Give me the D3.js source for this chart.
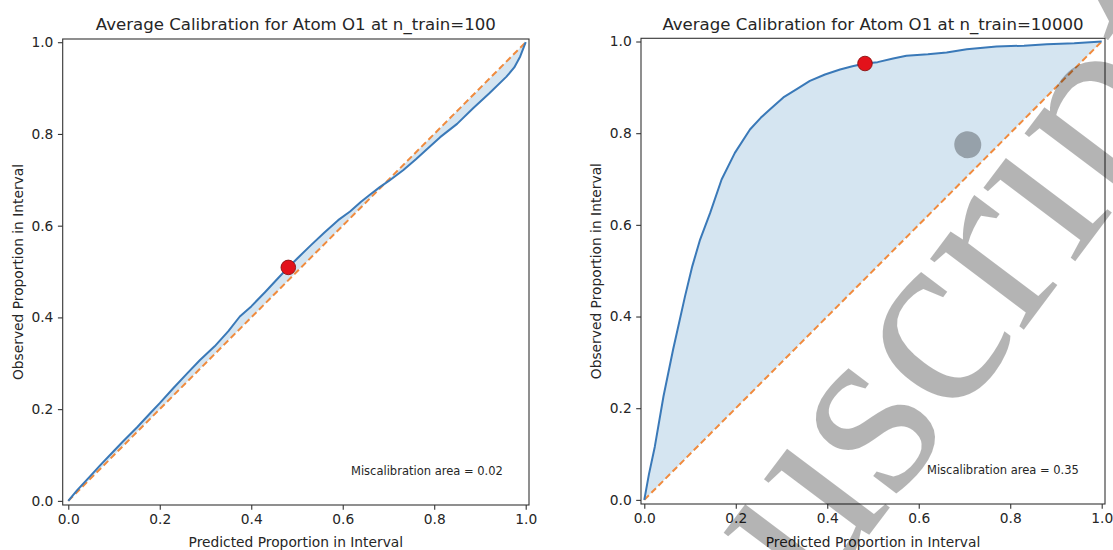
<!DOCTYPE html>
<html><head><meta charset="utf-8">
<script src="https://cdn.jsdelivr.net/npm/d3@7"></script>
<style>
html,body{margin:0;padding:0;background:#fff;}
svg{display:block;}
text{font-family:"DejaVu Sans",sans-serif;fill:#262626;}
</style></head><body>
<svg id="fig" width="1113" height="550"></svg>
<script>
// Calibration curve, n_train = 100
const predicted100 = [0, 0.02, 0.047, 0.07, 0.098, 0.12, 0.15, 0.179, 0.2, 0.23, 0.26, 0.288, 0.32, 0.35, 0.375, 0.40, 0.43, 0.46, 0.481, 0.50, 0.53, 0.56, 0.59, 0.616, 0.64, 0.66, 0.681, 0.70, 0.732, 0.76, 0.79, 0.813, 0.85, 0.885, 0.92, 0.958, 0.975, 0.988, 1.0];
const observed100  = [0, 0.024, 0.053, 0.078, 0.107, 0.13, 0.16, 0.191, 0.213, 0.246, 0.278, 0.307, 0.337, 0.37, 0.402, 0.424, 0.455, 0.487, 0.509, 0.528, 0.557, 0.585, 0.612, 0.631, 0.652, 0.668, 0.684, 0.697, 0.721, 0.745, 0.772, 0.793, 0.822, 0.856, 0.888, 0.925, 0.945, 0.969, 1.0];

// Calibration curve, n_train = 10000
const predicted10000 = [0, 0.01, 0.023, 0.042, 0.063, 0.089, 0.105, 0.122, 0.144, 0.169, 0.198, 0.231, 0.255, 0.275, 0.304, 0.335, 0.362, 0.395, 0.428, 0.455, 0.4825, 0.51, 0.544, 0.573, 0.62, 0.661, 0.705, 0.77, 0.83, 0.88, 0.94, 1.0];
const observed10000  = [0, 0.055, 0.116, 0.226, 0.328, 0.444, 0.51, 0.568, 0.626, 0.699, 0.757, 0.808, 0.834, 0.852, 0.878, 0.897, 0.914, 0.928, 0.939, 0.946, 0.952, 0.955, 0.963, 0.969, 0.972, 0.976, 0.983, 0.989, 0.991, 0.994, 0.996, 1.0];

// Highlighted point on each curve
const markerPredicted = [0.481, 0.4825];
const markerObserved  = [0.509, 0.952];

const titles = ["Average Calibration for Atom O1 at n_train=100", "Average Calibration for Atom O1 at n_train=10000"];
const miscalAreas = [0.02, 0.35];
const tickValues = [0, 0.2, 0.4, 0.6, 0.8, 1.0];
const xLabel = "Predicted Proportion in Interval";
const yLabel = "Observed Proportion in Interval";
const stampText = "Manuscript";

const svg = d3.select("#fig");
svg.append("rect").attr("width", 1113).attr("height", 550).attr("fill", "#fff");

const panels = [
  { pred: predicted100, obs: observed100, box: {l: 62.7, r: 529, t: 39, b: 505}, xdom: [-0.0122, 1.0072] },
  { pred: predicted10000, obs: observed10000, box: {l: 641, r: 1105, t: 38.3, b: 504}, xdom: [-0.0072, 1.0072] }
];

const C0 = "#3a79b8", C1 = "#f08b3e";

panels.forEach((p, i) => {
  const x = d3.scaleLinear().domain(p.xdom).range([p.box.l, p.box.r]);
  const y = d3.scaleLinear().domain([-0.009, 1.007]).range([p.box.b, p.box.t]);
  const g = svg.append("g");
  const pts = p.pred.map((v, k) => ({x: v, y: p.obs[k]}));

  // area between curve and diagonal
  g.append("path")
    .attr("d", d3.area().x(d => x(d.x)).y0(d => y(d.x)).y1(d => y(d.y))(pts))
    .attr("fill", "#1f77b4").attr("fill-opacity", 0.19);

  // ideal diagonal
  g.append("path")
    .attr("d", d3.line()([[x(0), y(0)], [x(1), y(1)]]))
    .attr("fill", "none").attr("stroke", C1).attr("stroke-width", 2)
    .attr("stroke-dasharray", "6.5,3.5");

  // observed curve
  g.append("path")
    .attr("d", d3.line().x(d => x(d.x)).y(d => y(d.y))(pts))
    .attr("fill", "none").attr("stroke", C0).attr("stroke-width", 2)
    .attr("stroke-linejoin", "round");

  // marker
  g.append("circle")
    .attr("cx", x(markerPredicted[i])).attr("cy", y(markerObserved[i]))
    .attr("r", 7.3).attr("fill", "#e3121b").attr("stroke", "#8a1212").attr("stroke-width", 0.9);

  // axes
  const ax = g.append("g").attr("transform", `translate(0,${p.box.b})`)
    .call(d3.axisBottom(x).tickValues(tickValues).tickFormat(d3.format(".1f")).tickSize(4.8).tickPadding(4));
  const ay = g.append("g").attr("transform", `translate(${p.box.l},0)`)
    .call(d3.axisLeft(y).tickValues(tickValues).tickFormat(d3.format(".1f")).tickSize(4.8).tickPadding(4.5));
  [ax, ay].forEach(a => {
    a.select(".domain").remove();
    a.selectAll(".tick line").attr("stroke", "#333").attr("stroke-width", 1.1);
    a.selectAll(".tick text").attr("fill", "#262626").style("font-size", "13.8px")
      .style("font-family", '"DejaVu Sans", sans-serif');
  });

  // frame
  g.append("rect")
    .attr("x", p.box.l).attr("y", p.box.t)
    .attr("width", p.box.r - p.box.l).attr("height", p.box.b - p.box.t)
    .attr("fill", "none").attr("stroke", "#333").attr("stroke-width", 1.1);

  const cx = (p.box.l + p.box.r) / 2, cy = (p.box.t + p.box.b) / 2;
  g.append("text").attr("x", cx).attr("y", 30).attr("text-anchor", "middle")
    .style("font-size", "16.6px").text(titles[i]);
  g.append("text").attr("x", cx).attr("y", 547).attr("text-anchor", "middle")
    .style("font-size", "13.8px").text(xLabel);
  g.append("text").attr("transform", `translate(${p.box.l - 40},${cy}) rotate(-90)`)
    .attr("text-anchor", "middle").style("font-size", "13.8px").text(yLabel);
  g.append("text").attr("x", x(0.95)).attr("y", y(0.05) - 2.7).attr("text-anchor", "end")
    .style("font-size", "11.5px").text(`Miscalibration area = ${miscalAreas[i].toFixed(2)}`);
});

// translucent stamp over the figure
svg.append("text")
  .attr("transform", "translate(533,981) rotate(-53)")
  .style("font-family", '"Liberation Serif", serif')
  .style("font-size", "256px")
  .style("fill", "#000").style("fill-opacity", 0.295)
  .text(stampText);
</script>
</body></html>
